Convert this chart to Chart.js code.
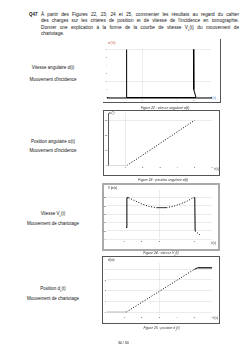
<!DOCTYPE html>
<html>
<head>
<meta charset="utf-8">
<script src="https://cdn.jsdelivr.net/npm/chart.js@4/dist/chart.umd.min.js"></script>
<style>
  body { margin: 0; width: 248px; height: 351px; background: #fff; position: relative; overflow: hidden;
         font-family: "Liberation Sans", Arial, sans-serif; color: #111; }
  .t { position: absolute; white-space: nowrap; }
  .q { position: absolute; left: 41px; width: 198px; font-size: 4.7px; line-height: 6.4px;
       text-align: justify; text-align-last: justify; white-space: normal; }
  .q.last { text-align-last: left; }
  .lab { position: absolute; width: 80px; left: 13px; text-align: center; font-size: 4.5px; line-height: 6px; }
  .cap { position: absolute; width: 120px; text-align: center; font-size: 3.4px; line-height: 4px; font-style: italic; color: #333; }
  .ax { position: absolute; font-size: 2.8px; line-height: 4px; white-space: nowrap; }
  .frame { position: absolute; box-sizing: border-box; }
  canvas { position: absolute; }
</style>
</head>
<body>

<div class="t" style="left:29px;top:11.8px;font-size:4.5px;line-height:6.4px;font-weight:bold">Q47</div>
<div class="q" style="top:11.8px">À partir des Figures 22, 23, 24 et 25, commenter les résultats au regard du cahier</div>
<div class="q" style="top:18.2px">des charges sur les critères de position et de vitesse de l'incidence en tomographie.</div>
<div class="q" style="top:24.6px">Donner une explication à la forme de la courbe de vitesse V<sub style="font-size:3px">c</sub>(t) du mouvement de</div>
<div class="q last" style="top:31px">chariotage.</div>

<div class="lab" style="top:65.3px">Vitesse angulaire α̇(t)</div>
<div class="lab" style="top:77px">Mouvement d'incidence</div>
<div class="lab" style="top:138.7px">Position angulaire α(t)</div>
<div class="lab" style="top:148px">Mouvement d'incidence</div>
<div class="lab" style="top:211px">Vitesse V<sub style="font-size:3px">c</sub>(t)</div>
<div class="lab" style="top:221px">Mouvement de chariotage</div>
<div class="lab" style="top:286px">Position d<sub style="font-size:3px">c</sub>(t)</div>
<div class="lab" style="top:296px">Mouvement de chariotage</div>

<div class="frame" style="left:103px;top:39px;width:118px;height:64px;border-right:1px solid #555;border-bottom:1px solid #555"></div>
<div class="frame" style="left:103px;top:110px;width:117px;height:66px;border:1px solid #555"></div>
<div class="frame" style="left:102px;top:183px;width:118px;height:68px;border:2px solid #aaa"></div>
<div class="frame" style="left:102px;top:256px;width:118px;height:68px;border:1px solid #555"></div>

<canvas id="c1" width="121" height="63" style="left:100px;top:39px"></canvas>
<canvas id="c2" width="119" height="64" style="left:100px;top:111px"></canvas>
<canvas id="c3" width="118" height="64" style="left:100px;top:185px"></canvas>
<canvas id="c4" width="118" height="66" style="left:100px;top:257px"></canvas>

<div class="ax" style="left:108px;top:40.7px;color:#c0392b">α̇ (°/s)</div>
<div class="ax" style="left:211px;top:96px;color:#1f6fc4">t (s)</div>
<div class="ax" style="left:109px;top:111.3px">α (°)</div>
<div class="ax" style="left:214px;top:166.5px">t (s)</div>
<div class="ax" style="left:108px;top:185.7px">V (m/s)</div>
<div class="ax" style="left:211px;top:241.3px">t (s)</div>
<div class="ax" style="left:108px;top:258.3px">d (m)</div>
<div class="ax" style="left:213px;top:316px">t (s)</div>

<div class="cap" style="left:105px;top:105.5px">Figure 22 : vitesse angulaire α̇(t)</div>
<div class="cap" style="left:103px;top:178px">Figure 23 : position angulaire α(t)</div>
<div class="cap" style="left:101px;top:250.7px">Figure 24 : vitesse V<sub style="font-size:2.4px">c</sub>(t)</div>
<div class="cap" style="left:101.5px;top:326.3px">Figure 25 : position d<sub style="font-size:2.4px">c</sub>(t)</div>

<div class="t" style="left:118px;top:340.7px;font-size:3.5px;line-height:4px">30 / 30</div>

<script>
// Figure 22 : vitesse angulaire
const t1 = [0, 1.1, 1.1, 3, 4.98, 5.0, 5.13, 6];
const w1 = [0, 0, 6, null, 6, 1, 0, 0];
const x1Ticks = [2, 4, 5];
const y1Ticks = [0, 1, 2, 3, 4, 5, 6];

// Figure 23 : position angulaire
const t2 = [0, 1.1, 5.0];
const a2 = [0, 0, 30];
const x2Ticks = [1, 2, 3, 4, 5, 6];
const y2Ticks = [0, 10, 20, 30];

// Figure 24 : vitesse Vc
const t3 = [1.11, 1.16, 1.26, 1.6, 2.0, 2.4, 2.83, 3.4, 3.8, 4.2, 4.6, 4.96, 5.02, 5.04, 5.32];
const v3 = [0.07, 0.25, 0.25, 0.232, 0.213, 0.198, 0.19, 0.19, 0.198, 0.212, 0.23, 0.252, 0.25, 0.05, 0.025];
const x3Ticks = [1, 2, 3, 5];
const y3Ticks = [0, 0.05, 0.1, 0.15, 0.2, 0.25];

// Figure 25 : position dc
const t4 = [0, 1.13, 5.0, 5.19, 6];
const d4 = [0, 0, 4, 4.14, 4.14];
const x4Ticks = [1, 2, 3, 4, 5, 6];
const y4Ticks = [0, 1, 2, 3, 4];

const GRID = '#e2e2e2';
const tickColors1 = ['#1f6fc4', '#e8822a', '#1f6fc4', '#1f6fc4', '#e8822a', '#1f6fc4', '#1f6fc4'];

// flat / vertical / sloped segments get different strokes
const isVert = c => Math.abs(c.p1.parsed.x - c.p0.parsed.x) < 0.2;
const isFlat = c => c.p1.parsed.y === c.p0.parsed.y;
const seg = {
  borderColor: c => isVert(c) ? '#000' : isFlat(c) ? (c.p0.parsed.y === 0 ? '#bbb' : '#333') : '#000',
  borderDash: c => (isVert(c) || isFlat(c)) ? [] : [1, 1.7],
  borderWidth: c => isVert(c) ? 1 : (isFlat(c) && c.p0.parsed.y > 1 ? 1.4 : 1)
};

function pts(xs, ys) { return xs.map((x, i) => ({ x: x, y: ys[i] })); }

function makeChart(id, o) {
  const cv = document.getElementById(id);
  const L = cv.offsetLeft, T = cv.offsetTop, W = cv.width, H = cv.height;
  const yW = 3, xH = 4;
  const pad = { left: o.area[0] - L - yW, top: o.area[1] - T, right: L + W - o.area[2], bottom: T + H - o.area[3] - xH };
  const gridFor = list => ({ color: c => list.includes(c.tick && c.tick.value) ? GRID : 'rgba(0,0,0,0)', drawTicks: false, lineWidth: 0.7 });
  return new Chart(cv, {
    type: 'line',
    data: { datasets: [{ data: pts(o.xs, o.ys), pointRadius: 0, borderColor: '#000', borderWidth: 1, spanGaps: false, segment: seg }] },
    options: {
      responsive: false, animation: false,
      layout: { padding: pad, autoPadding: false },
      plugins: { legend: { display: false }, tooltip: { enabled: false } },
      scales: {
        x: {
          type: 'linear', min: 0, max: 6, z: o.xz || 0,
          afterBuildTicks: s => { s.ticks = o.xTicks.map(v => ({ value: v })); },
          afterFit: s => { s.height = xH; },
          grid: gridFor(o.xGrid),
          border: o.xBorder || { display: false },
          ticks: { font: { size: 2.2, family: 'Liberation Sans' }, padding: 1, color: o.xTickColor || '#222', maxRotation: 0 }
        },
        y: {
          min: o.yMin, max: o.yMax,
          afterBuildTicks: s => { s.ticks = o.yTicks.map(v => ({ value: v })); },
          afterFit: s => { s.width = yW; },
          grid: gridFor(o.yGrid),
          border: o.yBorder || { display: false },
          ticks: { font: { size: 2.2, family: 'Liberation Sans' }, padding: 0.5, color: o.yTickColor || '#222' }
        }
      }
    }
  });
}

makeChart('c1', {
  area: [107.7, 49.3, 211, 97.7], xs: t1, ys: w1, xTicks: x1Ticks, yTicks: y1Ticks,
  yMin: 0, yMax: 6, xGrid: [2], yGrid: [2, 6], xz: 1,
  xBorder: { display: true, color: '#000', width: 1.6 },
  xTickColor: c => ['#e8822a', '#e8822a', '#1f6fc4'][c.index],
  yTickColor: c => tickColors1[c.index]
});

makeChart('c2', {
  area: [108, 113, 212, 165.5], xs: t2, ys: a2, xTicks: x2Ticks, yTicks: y2Ticks,
  yMin: 0, yMax: 34.8, xGrid: [1], yGrid: [30],
  yBorder: { display: true, color: '#333', width: 0.8 }
});

makeChart('c3', {
  area: [106.5, 189.4, 212, 239.2], xs: t3, ys: v3, xTicks: x3Ticks, yTicks: y3Ticks,
  yMin: 0, yMax: 0.3, xGrid: [3], yGrid: y3Ticks
});

makeChart('c4', {
  area: [106.5, 263, 212, 315], xs: t4, ys: d4, xTicks: x4Ticks, yTicks: y4Ticks,
  yMin: -0.28, yMax: 4.59, xGrid: [3], yGrid: y4Ticks
});
</script>
</body>
</html>
